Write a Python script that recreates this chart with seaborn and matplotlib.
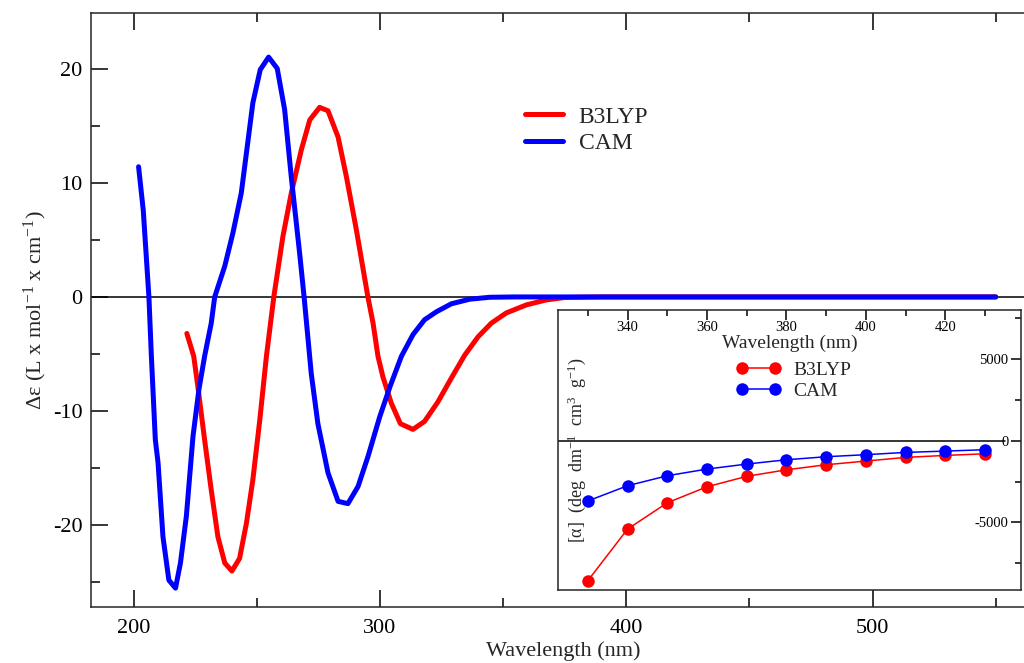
import matplotlib
matplotlib.use("Agg")
import matplotlib.pyplot as plt
from matplotlib.lines import Line2D
from matplotlib.ticker import MultipleLocator, FixedLocator
import numpy as np
import pandas as pd
import seaborn as sns

# ECD spectra (main panel)
cam_wl = [202.0, 203.9, 206.2, 207.2, 208.8, 209.9, 211.9, 214.3, 217.0, 219.0,
          221.4, 224.1, 226.5, 228.8, 231.5, 232.9, 237.0, 240.3, 243.7, 248.4,
          251.4, 254.8, 258.3, 261.3, 264.0, 267.4, 269.2, 272.1, 274.8, 278.9,
          283.0, 287.0, 291.1, 295.1, 299.9, 304.0, 308.7, 313.4, 318.1, 322.9,
          329.0, 336.4, 344.5, 355.0, 380.0, 450.0, 550.0]
cam_de = [11.4, 7.6, 0.0, -5.2, -12.5, -14.5, -21.0, -24.8, -25.5, -23.3,
          -19.2, -12.2, -8.1, -5.2, -2.3, 0.0, 2.7, 5.6, 9.1, 17.0,
          19.9, 21.0, 20.0, 16.4, 10.5, 3.8, 0.0, -6.7, -11.1, -15.4,
          -17.9, -18.1, -16.6, -14.0, -10.5, -7.9, -5.2, -3.3, -2.0, -1.3,
          -0.6, -0.2, -0.03, 0.0, 0.0, 0.0, 0.0]

b3_wl = [221.6, 224.4, 226.1, 228.8, 231.5, 234.2, 237.0, 239.9, 243.0, 245.8,
         248.4, 251.2, 253.9, 256.9, 260.6, 264.0, 268.1, 271.5, 275.5, 278.9,
         283.0, 286.4, 290.4, 295.1, 297.2, 299.2, 301.2, 304.6, 308.3, 313.4,
         318.1, 323.5, 329.0, 334.4, 339.8, 345.2, 351.3, 359.4, 367.5, 375.0,
         390.0, 450.0, 550.0]
b3_de = [-3.2, -5.2, -7.9, -12.5, -16.9, -21.0, -23.3, -24.0, -22.9, -19.8,
         -16.0, -10.8, -5.2, 0.0, 5.3, 9.1, 12.9, 15.5, 16.6, 16.3,
         14.0, 10.5, 5.9, 0.0, -2.3, -5.2, -7.0, -9.3, -11.1, -11.6,
         -10.9, -9.2, -7.1, -5.1, -3.5, -2.3, -1.4, -0.7, -0.26, -0.05,
         0.0, 0.0, 0.0]

# optical rotation (inset)
or_wl = [330, 340, 350, 360, 370, 380, 390, 400, 410, 420, 430]
or_b3 = [-8570, -5410, -3800, -2820, -2180, -1780, -1470, -1245, -1020, -900, -800]
or_cam = [-3690, -2755, -2145, -1735, -1430, -1165, -980, -855, -715, -635, -550]

methods = ["B3LYP", "CAM"]
colors = {"B3LYP": "#ff0000", "CAM": "#0000ff"}

sns.set_theme(style="ticks")
plt.rcParams["font.family"] = ["Liberation Serif", "DejaVu Serif"]
plt.rcParams["mathtext.fontset"] = "custom"
plt.rcParams["mathtext.rm"] = "Liberation Serif"
plt.rcParams["mathtext.it"] = "Liberation Serif:italic"
plt.rcParams["axes.linewidth"] = 1.1
plt.rcParams["axes.unicode_minus"] = False

ecd = pd.concat([
    pd.DataFrame({"wl": b3_wl, "de": b3_de, "method": "B3LYP"}),
    pd.DataFrame({"wl": cam_wl, "de": cam_de, "method": "CAM"}),
])
rot = pd.concat([
    pd.DataFrame({"wl": or_wl, "alpha": or_b3, "method": "B3LYP"}),
    pd.DataFrame({"wl": or_wl, "alpha": or_cam, "method": "CAM"}),
])

fig = plt.figure(figsize=(10.24, 6.63), dpi=100)
ax = fig.add_axes([0.0889, 0.0845, 0.922, 0.896])

ax.axhline(0, color="black", lw=1.1, zorder=1)
sns.lineplot(data=ecd, x="wl", y="de", hue="method", hue_order=methods,
             palette=colors, sort=False, estimator=None, lw=3.6, ax=ax)
ax.set_xlim(182.7, 566)
ax.set_ylim(-27.15, 24.87)
ax.xaxis.set_major_locator(MultipleLocator(100))
ax.xaxis.set_minor_locator(MultipleLocator(50))
ax.yaxis.set_major_locator(MultipleLocator(10))
ax.yaxis.set_minor_locator(MultipleLocator(5))
ax.tick_params(which="both", direction="in", top=True, right=False,
               width=1.1, labelsize=16, colors="black")
ax.tick_params(which="major", length=12.5)
ax.tick_params(which="minor", length=6.5)
ax.tick_params(axis="x", pad=9)
ax.tick_params(axis="y", pad=6)
ax.set_xlabel("Wavelength (nm)", fontsize=16, labelpad=2)
ax.set_ylabel("Δε (L x mol$^{-1}$ x cm$^{-1}$)", fontsize=16, labelpad=3)

handles, labels = ax.get_legend_handles_labels()
ax.legend(handles, labels, loc="upper left", bbox_to_anchor=(525 / 1024, 1 - 106 / 663),
          bbox_transform=fig.transFigure, frameon=False, fontsize=17,
          handlelength=1.6, handletextpad=0.68, labelspacing=0.2,
          borderpad=0, borderaxespad=0)

# inset with optical rotation
axin = fig.add_axes([0.5449, 0.1101, 0.4521, 0.4223])
axin.set_facecolor("white")
axin.axhline(0, xmax=0.965, color="black", lw=1.1, zorder=1)
sns.lineplot(data=rot, x="wl", y="alpha", hue="method", hue_order=methods,
             palette=colors, marker="o", markersize=9, markeredgewidth=0,
             lw=1.1, legend=False, ax=axin)
axin.set_xlim(322.5, 439.0)
axin.set_ylim(-9137, 7999)
axin.xaxis.set_major_locator(MultipleLocator(20))
axin.xaxis.set_minor_locator(FixedLocator([330, 350, 370, 390, 410, 430]))
axin.yaxis.set_major_locator(MultipleLocator(5000))
axin.yaxis.set_minor_locator(MultipleLocator(2500))
axin.tick_params(which="both", direction="in", width=1.1, colors="black",
                 top=True, bottom=False, left=False, right=True,
                 labeltop=True, labelbottom=False, labelleft=False, labelright=True,
                 labelsize=10.5)
axin.tick_params(which="major", length=7)
axin.tick_params(which="minor", length=4)
axin.tick_params(axis="x", pad=-17)
axin.tick_params(axis="y", pad=-9)
for lab in axin.get_yticklabels():
    lab.set_horizontalalignment("right")
axin.set_xlabel("")
axin.set_ylabel("")
axin.text(0.5, 0.882, "Wavelength (nm)", transform=axin.transAxes,
          ha="center", va="center", fontsize=14)
axin.text(0.041, 0.5, "[α]  (deg  dm$^{-1}$  cm$^{3}$  g$^{-1}$)",
          transform=axin.transAxes, rotation=90, ha="center", va="center",
          fontsize=13)

in_handles = [Line2D([], [], color=colors[m], lw=1.1, marker="o", markersize=9,
                     markeredgewidth=0) for m in methods]
axin.legend(in_handles, methods, loc="upper left",
            bbox_to_anchor=(736 / 1024, 1 - 361 / 663), bbox_transform=fig.transFigure,
            frameon=False, fontsize=14, numpoints=2, handlelength=2.3,
            handletextpad=0.65, labelspacing=0.2, borderpad=0, borderaxespad=0)

fig.savefig("out.png", dpi=100)
